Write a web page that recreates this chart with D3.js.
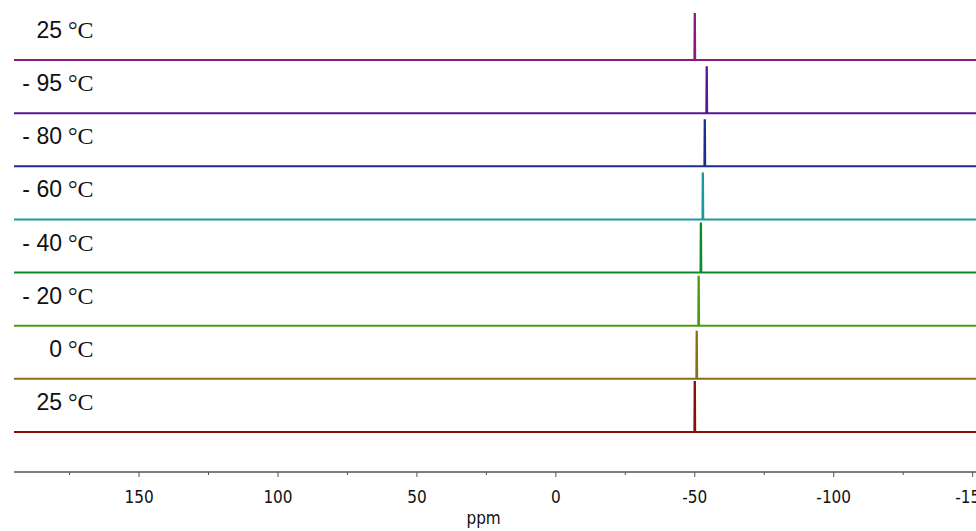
<!DOCTYPE html>
<html>
<head>
<meta charset="utf-8">
<script src="https://cdn.jsdelivr.net/npm/d3@7"></script>
<style>
  body { margin: 0; background: #fff; }
  svg { display: block; }
</style>
</head>
<body>
<div id="wrapper"></div>
<script>
// spectra from top to bottom
const labels = ["25", "- 95", "- 80", "- 60", "- 40", "- 20", "0", "25"]
const peakPpm = [-50.0, -54.3, -53.6, -52.9, -52.2, -51.4, -50.7, -50.0]
const peakHeight = [46, 46, 46, 46, 49, 49, 47, 50]
const colors = ["#8a1a82", "#5a1496", "#1c2f8f", "#1a9a9c", "#0e8a2a", "#4c9a12", "#8a7012", "#8c0c0c"]
const tickValues = [175, 150, 125, 100, 75, 50, 25, 0, -25, -50, -75, -100, -125, -150]
const majorTicks = [150, 100, 50, 0, -50, -100, -150]

const dimensions = {
  width: 976,
  height: 531,
  margin: { top: 0, right: 0, bottom: 59, left: 14 },
}
dimensions.boundedWidth = dimensions.width - dimensions.margin.left - dimensions.margin.right
dimensions.boundedHeight = dimensions.height - dimensions.margin.top - dimensions.margin.bottom

const svg = d3.select("#wrapper")
  .append("svg")
    .attr("width", dimensions.width)
    .attr("height", dimensions.height)
const bounds = svg.append("g")
  .attr("transform", `translate(${dimensions.margin.left},${dimensions.margin.top})`)

const xScale = d3.scaleLinear()
  .domain([195, -151.2])
  .range([0, dimensions.boundedWidth])

// baseline for each trace (index 0 at top)
const yBase = d3.scaleLinear()
  .domain([0, labels.length - 1])
  .range([60, 432])

// intensity offset in px above baseline
const yScale = d3.scaleLinear().domain([0, 50]).range([0, -50])

const lineGenerator = d3.line()
  .x(d => xScale(d[0]))
  .y(d => d[1])

labels.forEach((lab, i) => {
  const base = yBase(i)
  const p = peakPpm[i]
  const pts = [
    [195, base],
    [p + 0.15, base],
    [p + 0.05, base + yScale(peakHeight[i])],
    [p - 0.05, base + yScale(peakHeight[i])],
    [p - 0.15, base],
    [-151.2, base],
  ]
  bounds.append("path")
    .attr("d", lineGenerator(pts))
    .attr("fill", "none")
    .attr("stroke", colors[i])
    .attr("stroke-width", 2)

  svg.append("text")
    .attr("x", 62)
    .attr("y", base - 22)
    .attr("text-anchor", "end")
    .attr("font-family", "Liberation Sans, Arial, sans-serif")
    .attr("font-size", 23)
    .attr("fill", "#111")
    .text(lab)
  svg.append("text")
    .attr("x", 68)
    .attr("y", base - 22)
    .attr("font-family", "Liberation Serif, Times New Roman, serif")
    .attr("font-size", 24)
    .attr("fill", "#111")
    .text("°C")
})

// axis
const axisY = 472
const axis = bounds.append("g").attr("transform", `translate(0,${axisY})`)
axis.append("line")
  .attr("x1", 0).attr("x2", dimensions.boundedWidth)
  .attr("stroke", "#555").attr("stroke-width", 1.5)
axis.selectAll(".tick")
  .data(tickValues)
  .join("line")
    .attr("x1", d => xScale(d)).attr("x2", d => xScale(d))
    .attr("y1", 0)
    .attr("y2", d => majorTicks.includes(d) ? 5 : 3)
    .attr("stroke", "#555").attr("stroke-width", 1)
axis.selectAll(".lab")
  .data(majorTicks)
  .join("text")
    .attr("x", d => xScale(d))
    .attr("y", 31)
    .attr("text-anchor", "middle")
    .attr("font-family", "DejaVu Sans Condensed, Tahoma, sans-serif")
    .attr("font-size", 17)
    .attr("fill", "#111")
    .text(d => d)
axis.append("text")
  .attr("x", xScale(26))
  .attr("y", 52)
  .attr("text-anchor", "middle")
  .attr("font-family", "DejaVu Sans Condensed, Tahoma, sans-serif")
  .attr("font-size", 17)
  .attr("fill", "#111")
  .text("ppm")
</script>
</body>
</html>
